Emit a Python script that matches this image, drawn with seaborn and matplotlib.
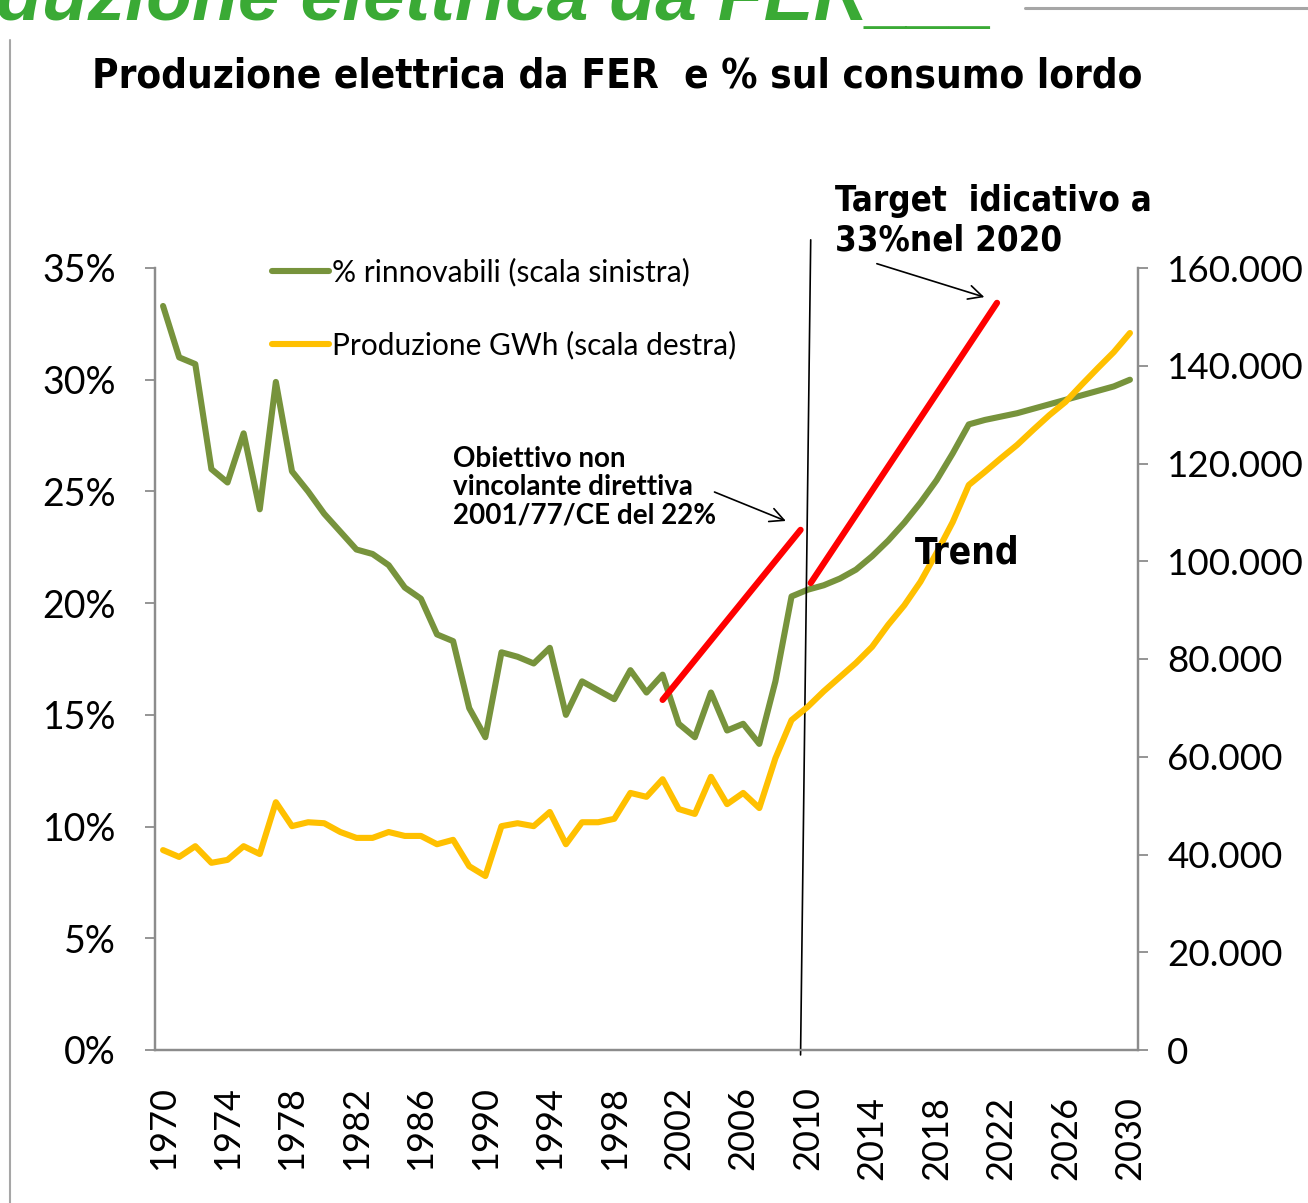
import matplotlib
matplotlib.use("Agg")
import matplotlib.pyplot as plt
import matplotlib.transforms as mtransforms
from matplotlib.lines import Line2D
from matplotlib.ticker import FuncFormatter
import seaborn as sns
import pandas as pd

# data
years = list(range(1970, 2031))
pct_rinnovabili = [33.3, 31.0, 30.7, 26.0, 25.4, 27.6, 24.2, 29.9, 25.9, 25.0,
                   24.0, 23.2, 22.4, 22.2, 21.7, 20.7, 20.2, 18.6, 18.3, 15.3,
                   14.0, 17.8, 17.6, 17.3, 18.0, 15.0, 16.5, 16.1, 15.7, 17.0,
                   16.0, 16.8, 14.6, 14.0, 16.0, 14.3, 14.6, 13.7, 16.5, 20.3,
                   20.6, 20.8, 21.1, 21.5, 22.1, 22.8, 23.6, 24.5, 25.5, 26.7,
                   28.0, 28.2, 28.35, 28.5, 28.7, 28.9, 29.1, 29.3, 29.5, 29.7, 30.0]
produzione_gwh = [40900, 39500, 41700, 38300, 38900, 41700, 40100, 50700, 45800, 46600,
                  46400, 44600, 43400, 43400, 44600, 43800, 43800, 42100, 43000, 37600,
                  35600, 45800, 46400, 45800, 48700, 42100, 46600, 46600, 47300, 52600,
                  51800, 55400, 49300, 48300, 55900, 50300, 52600, 49500, 59700, 67500,
                  70200, 73400, 76300, 79200, 82500, 87000, 91000, 95800, 101700, 108000,
                  115600, 118300, 121100, 123800, 126900, 129900, 132600, 136100, 139500, 142800, 146700]
# red target lines (year, %)
obiettivo_2010_x = [2001.0, 2009.56]
obiettivo_2010_y = [15.67, 23.28]
target_2020_x = [2010.19, 2021.75]
target_2020_y = [20.9, 33.44]

df = pd.DataFrame({"anno": years, "pct": pct_rinnovabili, "gwh": produzione_gwh})

sns.set_style("white")
plt.rcParams["font.family"] = ["Lato", "DejaVu Sans"]
plt.rcParams["text.color"] = "black"
plt.rcParams["xtick.color"] = "black"
plt.rcParams["ytick.color"] = "black"

W, H = 1308, 1203
fig = plt.figure(figsize=(W / 100, H / 100), dpi=100)


def px(x, y):
    return x / W, 1 - y / H


GREEN = "#77933C"
YELLOW = "#FFC000"
GREY = "#8C8C8C"

ax = fig.add_axes([155 / W, 1 - 1050 / H, (1138 - 155) / W, (1050 - 268) / H])
ax2 = ax.twinx()

sns.lineplot(data=df, x="anno", y="pct", ax=ax, color=GREEN, lw=4.4,
             solid_capstyle="round", label="% rinnovabili (scala sinistra)", legend=False)
sns.lineplot(data=df, x="anno", y="gwh", ax=ax2, color=YELLOW, lw=4.4,
             solid_capstyle="round", label="Produzione GWh (scala destra)", legend=False)

ax.plot(obiettivo_2010_x, obiettivo_2010_y, color="red", lw=4.5, zorder=5)
ax.plot(target_2020_x, target_2020_y, color="red", lw=4.5, zorder=5)
# vertical black divider
ax.plot([2010.19, 2009.56], [36.26, -0.22], color="black", lw=1.2, clip_on=False, zorder=6)

ax.set_xlim(1969.5, 2030.5)
ax.set_ylim(0, 35)
ax2.set_ylim(0, 160000)
ax.set_xlabel("")
ax.set_ylabel("")
ax2.set_xlabel("")
ax2.set_ylabel("")

ax.set_yticks(range(0, 36, 5))
ax.set_yticklabels([f"{v}%" for v in range(0, 36, 5)])
ax2.set_yticks(range(0, 160001, 20000))
ax2.yaxis.set_major_formatter(FuncFormatter(lambda v, p: f"{int(v):,}".replace(",", ".")))

ax.set_xticks(list(range(1970, 2031, 4)))
ax.set_xticklabels([str(y) for y in range(1970, 2031, 4)], rotation=90)
ax.set_xticks([y - 0.5 for y in years] + [2030.5], minor=True)

for a in (ax, ax2):
    a.spines["top"].set_visible(False)
    for s in ("left", "right", "bottom"):
        a.spines[s].set_color(GREY)
        a.spines[s].set_linewidth(1.6)
    a.grid(False)

ax.tick_params(axis="x", which="major", length=0, pad=26, labelsize=26)
ax.tick_params(axis="x", which="minor", length=8.5, width=1.3, color=GREY, direction="out")
ax.tick_params(axis="y", left=True, length=7, width=1.3, color=GREY, pad=21, labelsize=27)
ax2.tick_params(axis="y", right=True, length=7, width=1.3, color=GREY, pad=14, labelsize=26.5)

# later year labels sit a bit lower in the original
shift = mtransforms.ScaledTranslation(0, -10 / 100, fig.dpi_scale_trans)
for lab in ax.get_xticklabels()[11:]:
    lab.set_transform(lab.get_transform() + shift)

handles = [Line2D([], [], color=GREEN, lw=4.4, solid_capstyle="round"),
           Line2D([], [], color=YELLOW, lw=4.4, solid_capstyle="round")]
fig.legend(handles, ["% rinnovabili (scala sinistra)", "Produzione GWh (scala destra)"],
           loc="upper left", bbox_to_anchor=px(272, 258), frameon=False, fontsize=21.5,
           handlelength=1.9, handletextpad=0.1, labelspacing=1.48, borderpad=0, borderaxespad=0)

# titles and notes
fig.text(*px(617, 76), "Produzione elettrica da FER  e % sul consumo lordo", ha="center", va="center",
         fontsize=29, fontweight="bold", family="DejaVu Sans", fontstretch="condensed")
fig.text(*px(-4, 20), "duzione elettrica da FER___", ha="left", va="baseline", fontsize=54,
         fontweight="bold", style="italic", color="#3AAA35", family="Liberation Sans")
fig.add_artist(Line2D([1025 / W, 1], [1 - 8 / H, 1 - 8 / H], color="#A6A6A6", lw=2.2))
fig.add_artist(Line2D([10 / W, 10 / W], [0, 1 - 40 / H], color="#A6A6A6", lw=1.5))

fig.text(*px(453, 446), "Obiettivo non\nvincolante direttiva\n2001/77/CE del 22%", ha="left", va="top",
         fontsize=20, fontweight="bold", linespacing=1.1)
fig.text(*px(835, 184), "Target  idicativo a\n33%nel 2020", ha="left", va="top",
         fontsize=25, fontweight="bold", family="DejaVu Sans", fontstretch="condensed", linespacing=1.2)
fig.text(*px(915, 553), "Trend", ha="left", va="center", fontsize=26.5, fontweight="bold",
         family="DejaVu Sans", fontstretch="condensed")

ax.annotate("", xy=(2008.81, 23.63), xytext=(2004.06, 25.02),
            arrowprops=dict(arrowstyle="->", color="black", lw=1.2, mutation_scale=25),
            annotation_clip=False)
ax.annotate("", xy=(2021.13, 33.66), xytext=(2014.13, 35.23),
            arrowprops=dict(arrowstyle="->", color="black", lw=1.2, mutation_scale=25),
            annotation_clip=False)

fig.savefig("out.png", dpi=100)
